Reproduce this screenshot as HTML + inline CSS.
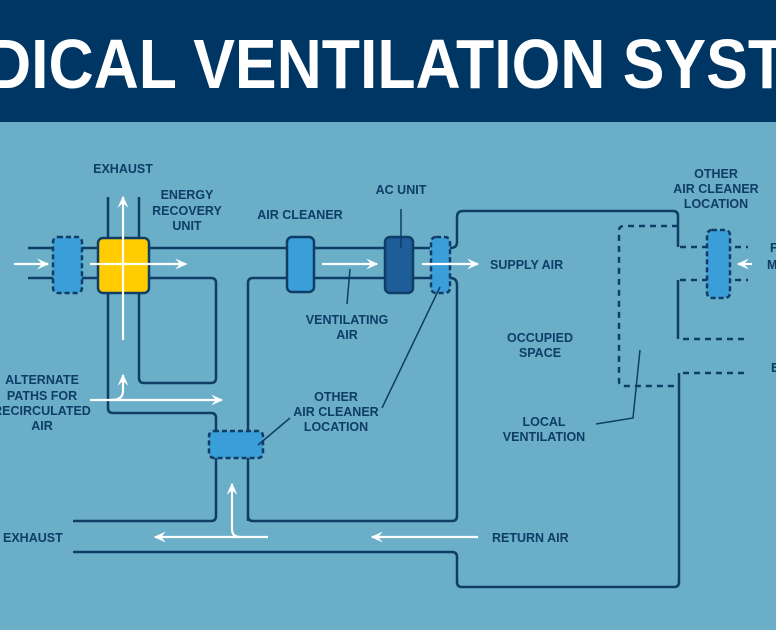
<!DOCTYPE html>
<html><head><meta charset="utf-8"><style>
html,body{margin:0;padding:0;width:776px;height:630px;overflow:hidden;background:#6aaec8}
svg{display:block}
text{font-family:"Liberation Sans Narrow","Liberation Sans",sans-serif;font-weight:bold;fill:#0f3d66;font-size:12.5px}
</style></head><body>
<svg width="776" height="630" viewBox="0 0 776 630" xmlns="http://www.w3.org/2000/svg">
<defs>
<marker id="ah" viewBox="0 0 10 10" refX="9" refY="5" markerWidth="5.5" markerHeight="5.5" orient="auto">
<path d="M0,0.5 L10,5 L0,9.5 L4,5 Z" fill="#fff"/></marker>
</defs>
<rect x="0" y="0" width="776" height="122" fill="#003663"/>
<text x="-14" y="88" textLength="800" lengthAdjust="spacingAndGlyphs" style="font-size:70px;fill:#fff;font-weight:bold">DICAL VENTILATION SYST</text>

<g fill="none" stroke="#0f3d66" stroke-width="2.5" stroke-linejoin="round">
<line x1="28" y1="248" x2="98" y2="248"/>
<line x1="28" y1="278" x2="98" y2="278"/>
<path d="M108 197 V408 Q108 413 113 413 H211 Q216 413 216 418 V431"/>
<path d="M139 197 V378 Q139 383 144 383 H211 Q216 383 216 378 V283 Q216 278 211 278 H149"/>
<line x1="149" y1="248" x2="430" y2="248"/>
<path d="M450 248 Q457 248 457 242 V217 Q457 211 463 211 H673 Q678 211 678 216 V247"/>
<path d="M248 521 V283 Q248 278 253 278 H430"/>
<path d="M450 278 Q457 278 457 285 V516 Q457 521 452 521 H253 Q248 521 248 516"/>
<path d="M73 521 H211 Q216 521 216 516 V458"/>
<path d="M73 552 H452 Q457 552 457 557 V582 Q457 587 462 587 H674 Q679 587 679 582 V373"/>
<line x1="678" y1="280" x2="678" y2="339"/>
</g>
<g fill="none" stroke="#0f3d66" stroke-width="2.5" stroke-dasharray="6,5">
<path d="M678 226 H624 Q619 226 619 231 V381 Q619 386 624 386 H678"/>
<line x1="680" y1="247" x2="748" y2="247"/>
<line x1="680" y1="280" x2="748" y2="280"/>
<line x1="683" y1="339" x2="748" y2="339"/>
<line x1="683" y1="373" x2="748" y2="373"/>
</g>
<rect x="53" y="237" width="29" height="56" rx="5" fill="#3a9fd8" stroke="#0f3d66" stroke-width="2.5" stroke-dasharray="5,3"/>
<rect x="98" y="238" width="51" height="55" rx="5" fill="#ffcc00" stroke="#0f3d66" stroke-width="2.5"/>
<rect x="287" y="237" width="27" height="55" rx="5" fill="#3a9fd8" stroke="#0f3d66" stroke-width="2.5"/>
<rect x="385" y="237" width="28" height="56" rx="5" fill="#1d5d9a" stroke="#0f3d66" stroke-width="2.5"/>
<rect x="431" y="237" width="19" height="56" rx="5" fill="#3a9fd8" stroke="#0f3d66" stroke-width="2.5" stroke-dasharray="5,3"/>
<rect x="209" y="431" width="54" height="27" rx="5" fill="#3a9fd8" stroke="#0f3d66" stroke-width="2.5" stroke-dasharray="5,3"/>
<rect x="707" y="230" width="23" height="68" rx="5" fill="#3a9fd8" stroke="#0f3d66" stroke-width="2.5" stroke-dasharray="5,3"/>
<g stroke="#0f3d66" stroke-width="1.5" fill="none">
<line x1="401" y1="209" x2="401" y2="248"/>
<line x1="350" y1="269" x2="347" y2="304"/>
<line x1="440" y1="287" x2="382" y2="408"/>
<line x1="290" y1="418" x2="258" y2="445"/>
<polyline points="596,424 633,418 640,350"/>
</g>
<g stroke="#fff" stroke-width="2.2" fill="none" marker-end="url(#ah)">
<line x1="14" y1="264" x2="48" y2="264"/>
<line x1="90" y1="264" x2="186" y2="264"/>
<line x1="123" y1="340" x2="123" y2="197"/>
<line x1="322" y1="264" x2="377" y2="264"/>
<line x1="422" y1="264" x2="478" y2="264"/>
<line x1="90" y1="400" x2="222" y2="400"/>
<path d="M112 400 Q122 400 123 392 V375"/>
<path d="M268 537 H240 Q232 537 232 529 V484"/>
<line x1="240" y1="537" x2="155" y2="537"/>
<line x1="478" y1="537" x2="372" y2="537"/>
<line x1="752" y1="264" x2="738" y2="264"/>
</g>
<g text-anchor="middle">
<text x="123" y="173">EXHAUST</text>
<text x="187" y="199">ENERGY</text><text x="187" y="215">RECOVERY</text><text x="187" y="230">UNIT</text>
<text x="300" y="219">AIR CLEANER</text>
<text x="401" y="194">AC UNIT</text>
<text x="347" y="324">VENTILATING</text><text x="347" y="339">AIR</text>
<text x="716" y="178">OTHER</text><text x="716" y="193">AIR CLEANER</text><text x="716" y="208">LOCATION</text>
<text x="540" y="342">OCCUPIED</text><text x="540" y="357">SPACE</text>
<text x="544" y="426">LOCAL</text><text x="544" y="441">VENTILATION</text>
<text x="336" y="401">OTHER</text><text x="336" y="416">AIR CLEANER</text><text x="336" y="431">LOCATION</text>
<text x="42" y="384">ALTERNATE</text><text x="42" y="400">PATHS FOR</text><text x="42" y="415">RECIRCULATED</text><text x="42" y="430">AIR</text>
</g>
<text x="490" y="269">SUPPLY AIR</text>
<text x="3" y="542">EXHAUST</text>
<text x="492" y="542">RETURN AIR</text>
<text x="770" y="252">F</text>
<text x="767" y="269">M</text>
<text x="771" y="372">E</text>
</svg>
</body></html>
